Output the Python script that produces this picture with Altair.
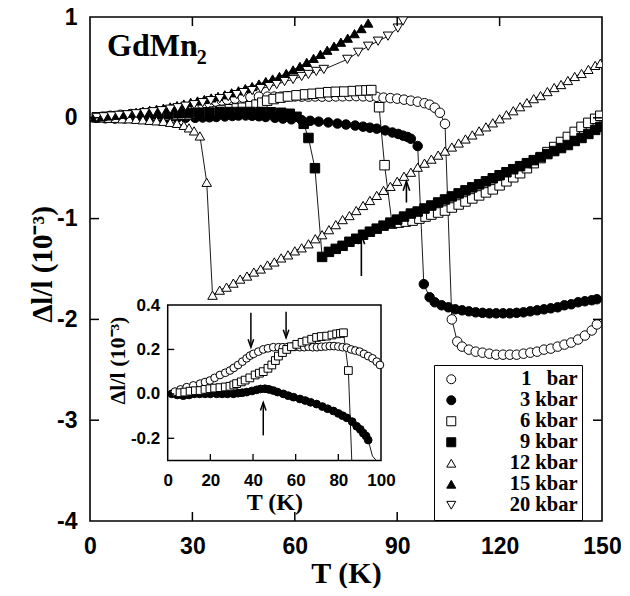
import altair as alt
import pandas as pd

# ---------------- data ----------------
T_1bar = [3.4, 6, 8.9, 12, 15.2, 17.5, 19.8, 22, 24.5, 27, 29.2, 31, 33, 35, 37, 38.6, 40.2, 42.5, 44.8, 47,
          49.5, 52, 54, 56, 58, 60, 62, 64, 66, 68, 70, 72, 74, 76, 78, 80, 82, 84, 86, 88,
          90, 92, 94, 96, 98, 99.5, 101, 102.5, 104, 106, 107.6, 109, 111, 113, 115, 117, 119, 121, 123, 125,
          127, 129, 131, 133, 135, 137, 139, 141, 143, 145, 147, 148.5]
V_1bar = [0.01, 0.02, 0.03, 0.038, 0.046, 0.053, 0.06, 0.072, 0.085, 0.095, 0.105, 0.117, 0.13, 0.145, 0.16, 0.172, 0.18, 0.19, 0.2, 0.205,
          0.21, 0.21, 0.21, 0.21, 0.212, 0.212, 0.21, 0.21, 0.212, 0.21, 0.21, 0.212, 0.213, 0.215, 0.215, 0.213, 0.21, 0.208, 0.2, 0.195,
          0.19, 0.18, 0.17, 0.16, 0.145, 0.13, 0.1, 0.05, -0.06, -2.0, -2.22, -2.27, -2.3, -2.32, -2.33, -2.34, -2.35, -2.35, -2.35, -2.35,
          -2.34, -2.33, -2.32, -2.3, -2.29, -2.27, -2.25, -2.23, -2.2, -2.16, -2.11, -2.05]

T_3k = [1.9, 4.5, 7.3, 10, 12.5, 15, 17.5, 20, 23, 25.5, 28, 30.8, 33, 35, 37, 39.5, 41.7, 43.5, 45.6, 47.5,
        49.5, 51.5, 54.2, 56.5, 59, 62, 64.5, 67, 69.8, 72.5, 75, 77.7, 80, 82, 84, 86.5, 88.6, 90.3, 91.7, 93,
        94, 96, 97.8, 99.5, 101, 103, 105, 107, 109, 111, 113, 115, 117, 119, 121, 123, 125, 127, 129, 131,
        133, 135, 137, 139, 141, 143, 145, 147, 148.5]
V_3k = [0, -0.005, -0.008, -0.005, 0, 0, 0, 0, 0, 0, 0, 0, 0.003, 0.005, 0.008, 0.013, 0.018, 0.022, 0.023, 0.02,
        0.015, 0.008, 0, -0.008, -0.015, -0.023, -0.03, -0.038, -0.046, -0.057, -0.067, -0.077, -0.088, -0.098, -0.108, -0.125, -0.146, -0.16, -0.177, -0.19,
        -0.208, -0.28, -1.65, -1.78, -1.83, -1.86, -1.88, -1.9, -1.91, -1.92, -1.93, -1.935, -1.94, -1.94, -1.94, -1.94, -1.935, -1.93, -1.92, -1.91,
        -1.9, -1.89, -1.88, -1.86, -1.85, -1.83, -1.82, -1.81, -1.8]

T_6k = [5.8, 8, 10.5, 13, 15.2, 17.5, 19.8, 22, 24.5, 27, 29.2, 31, 32.3, 34.5, 36.3, 38.5, 41, 43, 44.8, 47,
        48.8, 50.5, 51.9, 53.8, 55.8, 58, 60.5, 63, 65.2, 67.5, 69.8, 72, 74.5, 77, 79.2, 81, 82.4, 84.7, 86.3, 88.5,
        90.5, 92.5, 94.5, 96.5, 98.3, 100, 102, 104, 106, 108, 110, 112, 114, 116, 118, 120, 122, 124, 126, 128,
        130, 132, 134, 136, 138, 140, 142, 144, 146, 148, 149.5]
V_6k = [0.005, 0.008, 0.012, 0.014, 0.015, 0.02, 0.023, 0.026, 0.028, 0.031, 0.034, 0.04, 0.046, 0.054, 0.062, 0.072, 0.085, 0.093, 0.1, 0.115,
        0.13, 0.15, 0.17, 0.186, 0.2, 0.212, 0.223, 0.232, 0.238, 0.246, 0.254, 0.258, 0.26, 0.265, 0.27, 0.272, 0.275, 0.105, -0.47, -1.05,
        -1.04, -1.03, -1.02, -1.0, -0.98, -0.96, -0.94, -0.92, -0.89, -0.86, -0.83, -0.8, -0.77, -0.74, -0.71, -0.67, -0.63, -0.59, -0.55, -0.5,
        -0.45, -0.4, -0.34, -0.29, -0.24, -0.19, -0.14, -0.09, -0.05, -0.01, 0.02]

T_9k = [2, 5, 8, 11, 14, 17, 20, 23, 26, 29, 32, 35, 38, 41, 44, 47, 50, 53, 56, 58.5,
        60.5, 62.6, 64, 65.9, 68, 70, 72, 74, 76, 78,
        80, 82, 84, 86, 88, 90, 92, 94, 96, 98, 100, 102, 104, 106, 108, 110, 112, 114, 116, 118,
        120, 122, 124, 126, 128, 130, 132, 134, 136, 138, 140, 142, 144, 146, 148, 149.5]
V_9k = [0.005, 0.01, 0.015, 0.02, 0.025, 0.03, 0.035, 0.04, 0.045, 0.048, 0.05, 0.052, 0.055, 0.057, 0.058, 0.058, 0.057, 0.055, 0.05, 0.04,
        0.01, -0.06, -0.2, -0.5, -1.38, -1.33, -1.3, -1.27, -1.23, -1.2,
        -1.16, -1.13, -1.1, -1.07, -1.04, -1.01, -0.98, -0.95, -0.93, -0.9, -0.87, -0.84, -0.81, -0.78, -0.75, -0.72, -0.69, -0.66, -0.63, -0.6,
        -0.57, -0.54, -0.51, -0.48, -0.45, -0.42, -0.39, -0.36, -0.33, -0.3, -0.27, -0.23, -0.2, -0.16, -0.12, -0.09]

T_12k = [1.4, 3.5, 5.5, 7.5, 9.5, 11.5, 13.5, 15.5, 17.5, 19.5, 21.5, 23.5, 25.5, 27.5, 29, 30.5, 32.2, 34.2, 35.9,
         38, 40, 42, 44, 46, 48, 50, 52, 54, 56, 58, 60, 62, 64, 66, 68, 70, 72, 74, 76,
         78, 80, 82, 84, 86, 88, 90, 92, 94, 96, 98, 100, 102, 104, 106, 108, 110, 112, 114, 116,
         118, 120, 122, 124, 126, 128, 130, 132, 134, 136, 138, 140, 142, 144, 146, 148, 149.5]
V_12k = [0.0, 0.0, -0.005, -0.005, -0.01, -0.01, -0.015, -0.02, -0.025, -0.03, -0.035, -0.045, -0.055, -0.075, -0.1, -0.13, -0.18, -0.64, -1.76,
         -1.71, -1.68, -1.64, -1.6, -1.57, -1.53, -1.5, -1.46, -1.43, -1.39, -1.36, -1.32, -1.29, -1.25, -1.2, -1.16, -1.11, -1.06, -1.01, -0.97,
         -0.92, -0.87, -0.82, -0.77, -0.72, -0.68, -0.63, -0.58, -0.54, -0.49, -0.45, -0.41, -0.37, -0.33, -0.29, -0.25, -0.21, -0.17, -0.13, -0.09,
         -0.05, -0.01, 0.03, 0.07, 0.11, 0.15, 0.19, 0.22, 0.26, 0.3, 0.33, 0.37, 0.41, 0.44, 0.48, 0.52, 0.54]

T_15k = [1.5, 3.5, 5.5, 7.5, 9.5, 11.5, 13.5, 15.5, 17.5, 19.5, 21.5, 23.5, 25.5, 27.5, 29.5, 31.5, 33.5, 35.5, 37.5, 39.5,
         41.5, 43.5, 45.5, 47.5, 49.5, 51.5, 53.5, 55.5, 57.5, 59.5, 61.5, 63.5, 65.5, 67.5, 69.5, 71.5, 73.5, 75.5, 77.5, 79.5, 81.5]
V_15k = [0.005, 0.012, 0.018, 0.025, 0.035, 0.045, 0.055, 0.065, 0.075, 0.085, 0.095, 0.108, 0.122, 0.137, 0.152, 0.167, 0.182, 0.197, 0.212, 0.228,
         0.248, 0.268, 0.29, 0.31, 0.335, 0.36, 0.385, 0.41, 0.44, 0.475, 0.51, 0.55, 0.59, 0.63, 0.67, 0.71, 0.75, 0.79, 0.835, 0.885, 0.94]

T_20k = [2, 4, 6.3, 8.5, 11, 13.5, 16, 18.5, 21, 23.5, 25.7, 28, 30.5, 33, 35.4, 38, 40.5, 43, 45, 47.5,
         50, 52.5, 54.7, 57, 59.5, 62, 64, 66.3, 68.5, 75.4, 78.6, 81.5, 84.4, 87.3, 90.2, 91.7]
V_20k = [0.005, 0.01, 0.018, 0.025, 0.03, 0.04, 0.05, 0.06, 0.07, 0.085, 0.1, 0.115, 0.13, 0.15, 0.17, 0.19, 0.21, 0.23, 0.25, 0.27,
         0.29, 0.31, 0.33, 0.36, 0.38, 0.41, 0.43, 0.46, 0.48, 0.58, 0.65, 0.71, 0.76, 0.81, 0.89, 0.96]

series_names = ["1\u00a0\u00a0\u00a0bar", "3 kbar", "6 kbar", "9 kbar", "12 kbar", "15 kbar", "20 kbar"]
series_fill = ["white", "black", "white", "black", "white", "black", "white"]
series_stroke = ["black", "black", "black", "black", "black", "black", "black"]
series_shape = ["circle", "circle", "square", "square", "triangle-up", "triangle-up", "triangle-down"]
series_T = [T_1bar, T_3k, T_6k, T_9k, T_12k, T_15k, T_20k]
series_V = [V_1bar, V_3k, V_6k, V_9k, V_12k, V_15k, V_20k]
draw_order = [1, 0, 2, 3, 4, 5, 6]
inset_series = [0, 1, 2]

# arrows (main panel, pointing up)
arrow_T = [79.5, 92.7]
arrow_base = [-1.57, -0.84]
arrow_tip = [-1.16, -0.63]
# arrows (inset)
inset_arrow_T = [39.0, 55.5, 44.8]
inset_arrow_base = [0.365, 0.37, -0.187]
inset_arrow_tip = [0.21, 0.253, -0.039]
inset_arrow_dir = ["down", "down", "up"]

main_xticks = [0, 30, 60, 90, 120, 150]
main_yticks = [-4, -3, -2, -1, 0, 1]
inset_xticks = [0, 20, 40, 60, 80, 100]
inset_yticks = [-0.2, 0.0, 0.2, 0.4]

# ---------------- build tables ----------------
rows = []
for i in draw_order:
    for t, v in zip(series_T[i], series_V[i]):
        rows.append({"p": series_names[i], "T": t, "v": v})
df = pd.DataFrame(rows)
inset_names = [series_names[i] for i in inset_series]
df_in = df[df["p"].isin(inset_names) & (df["T"] <= 100)]
df_in_pts = df_in[(df_in["v"] > -0.25) & (df_in["v"] <= 0.4)]

W, H = 512, 504
XD, YD = [0, 150], [-4, 1]
# inset placement inside the plot area (pixels)
IX0, IX1 = 77.7, 291.0
IY0, IY1 = 443.5, 288.0
IXD, IYD = [0, 100], [-0.3, 0.4]

TICK = 9.0
tx = TICK / W * (XD[1] - XD[0])
ty = TICK / H * (YD[1] - YD[0])
ITICK = 6.5
itx = ITICK / (IX1 - IX0) * (IXD[1] - IXD[0])
ity = ITICK / (IY0 - IY1) * (IYD[1] - IYD[0])

tick_rows = []
for t in main_xticks[1:-1]:
    tick_rows.append({"x": t, "x2": t, "y": YD[0], "y2": YD[0] + ty})
    tick_rows.append({"x": t, "x2": t, "y": YD[1], "y2": YD[1] - ty})
for v in main_yticks[1:-1]:
    tick_rows.append({"x": XD[0], "x2": XD[0] + tx, "y": v, "y2": v})
    tick_rows.append({"x": XD[1], "x2": XD[1] - tx, "y": v, "y2": v})
df_ticks = pd.DataFrame(tick_rows)

itick_rows = []
for t in inset_xticks[1:-1]:
    itick_rows.append({"x": t, "x2": t, "y": IYD[0], "y2": IYD[0] + ity})
for v in inset_yticks[:-1]:
    itick_rows.append({"x": IXD[0], "x2": IXD[0] + itx, "y": v, "y2": v})
df_iticks = pd.DataFrame(itick_rows)

df_arrows = pd.DataFrame({"T": arrow_T, "base": arrow_base, "tip": arrow_tip})
df_iarrows = pd.DataFrame({"T": inset_arrow_T, "base": inset_arrow_base,
                           "tip": inset_arrow_tip, "dir": inset_arrow_dir})
df_frame = pd.DataFrame({"x": [IXD[0]], "x2": [IXD[1]], "y": [IYD[0]], "y2": [IYD[1]]})
df_label = pd.DataFrame({"T": [5.0, 31.3], "v": [0.61, 0.53], "txt": ["GdMn", "2"]})

SANS = "Liberation Sans"
SERIF = "Liberation Serif"
UP = "M-0.7,2L0,0L0.7,2"
DOWN = "M-0.7,-2L0,0L0.7,-2"

int_expr = "datum.value < 0 ? '-' + format(-datum.value, 'd') : format(datum.value, 'd')"
dec_expr = "datum.value < 0 ? '-' + format(-datum.value, '.1f') : format(datum.value, '.1f')"

# ---------------- main panel ----------------
main_xs = alt.Scale(domain=XD, nice=False, zero=False)
main_ys = alt.Scale(domain=YD, nice=False, zero=False)
main_xaxis = alt.Axis(values=main_xticks, ticks=False, domain=False, grid=False, labelFlush=False,
                      labelFont=SANS, labelFontSize=23, labelFontWeight="bold", labelColor="black",
                      labelPadding=14, labelExpr=int_expr,
                      title="T (K)", titleFont=SERIF, titleFontSize=30, titleFontWeight="bold",
                      titleColor="black", titlePadding=0)
main_yaxis = alt.Axis(values=main_yticks, ticks=False, domain=False, grid=False,
                      labelFont=SANS, labelFontSize=23, labelFontWeight="bold", labelColor="black",
                      labelPadding=13, labelExpr=int_expr,
                      title="\u0394l/l (10\u207b\u00b3)", titleFont=SERIF, titleFontSize=29,
                      titleFontWeight="bold", titleColor="black", titleBaseline="alphabetic",
                      titleX=-38.5, titleY=247)


def mx(f):
    return alt.X(f, type="quantitative", scale=main_xs, axis=main_xaxis)


def my(f):
    return alt.Y(f, type="quantitative", scale=main_ys, axis=main_yaxis)


legend = alt.Legend(orient="none", legendX=344, legendY=348, strokeColor="black", fillColor="white",
                    padding=4, symbolSize=81, symbolStrokeColor="black", symbolStrokeWidth=1,
                    symbolOffset=3, labelFont=SERIF, labelFontSize=20.5, labelFontWeight="bold",
                    labelColor="black", labelAlign="right", labelOffset=116, rowPadding=0,
                    labelLimit=400)
fill_enc = alt.Fill("p:N", scale=alt.Scale(domain=series_names, range=series_fill), legend=legend, title=None)
stroke_enc = alt.Stroke("p:N", scale=alt.Scale(domain=series_names, range=series_stroke), legend=legend, title=None)
shape_enc = alt.Shape("p:N", scale=alt.Scale(domain=series_names, range=series_shape), legend=legend, title=None)

m_lines = alt.Chart(df).mark_line(color="black", strokeWidth=0.9, clip=True).encode(
    x=mx("T"), y=my("v"), detail="p:N")
m_points = alt.Chart(df).mark_point(filled=True, strokeWidth=1, size=90, opacity=1, clip=True).encode(
    x=mx("T"), y=my("v"), fill=fill_enc, stroke=stroke_enc, shape=shape_enc)
m_ticks = alt.Chart(df_ticks).mark_rule(color="black", strokeWidth=1.5).encode(
    x=mx("x"), x2="x2", y=my("y"), y2="y2")
m_shafts = alt.Chart(df_arrows).mark_rule(color="black", strokeWidth=1.6).encode(
    x=mx("T"), y=my("base"), y2="tip")
m_heads = alt.Chart(df_arrows).mark_point(shape=UP, filled=False, stroke="black", strokeWidth=1.6,
                                           size=90, opacity=1).encode(x=mx("T"), y=my("tip"))
m_name = alt.Chart(df_label.iloc[[0]]).mark_text(align="left", baseline="alphabetic", font=SERIF,
                                                   fontSize=32, fontWeight="bold", color="black").encode(
    x=mx("T"), y=my("v"), text="txt:N")
m_sub = alt.Chart(df_label.iloc[[1]]).mark_text(align="left", baseline="alphabetic", font=SERIF,
                                                  fontSize=20, fontWeight="bold", color="black").encode(
    x=mx("T"), y=my("v"), text="txt:N")

main = alt.layer(m_lines, m_points, m_ticks, m_shafts, m_heads, m_name, m_sub)

# ---------------- inset panel ----------------
in_xs = alt.Scale(domain=IXD, range=[IX0, IX1], nice=False, zero=False)
in_ys = alt.Scale(domain=IYD, range=[IY0, IY1], nice=False, zero=False, clamp=True)
in_xaxis = alt.Axis(orient="bottom", offset=IY0 - H, values=inset_xticks, ticks=False, domain=False,
                    grid=False, labelFlush=False, labelFont=SANS, labelFontSize=17, labelFontWeight="bold",
                    labelColor="black", labelPadding=12, labelExpr=int_expr,
                    title="T (K)", titleFont=SERIF, titleFontSize=24, titleFontWeight="bold",
                    titleColor="black", titlePadding=2)
in_yaxis = alt.Axis(orient="left", offset=-IX0, values=inset_yticks, ticks=False, domain=False, grid=False,
                    labelFont=SANS, labelFontSize=17, labelFontWeight="bold", labelColor="black",
                    labelPadding=8, labelExpr=dec_expr,
                    title="\u0394l/l (10\u207b\u00b3)", titleFont=SERIF, titleFontSize=22,
                    titleFontWeight="bold", titleColor="black", titlePadding=1, titleY=343)


def ix(f):
    return alt.X(f, type="quantitative", scale=in_xs, axis=in_xaxis)


def iy(f):
    return alt.Y(f, type="quantitative", scale=in_ys, axis=in_yaxis)


i_frame = alt.Chart(df_frame).mark_rect(fillOpacity=0, stroke="black", strokeWidth=1.5).encode(
    x=ix("x"), x2="x2", y=iy("y"), y2="y2")
i_lines = alt.Chart(df_in).mark_line(color="black", strokeWidth=0.9).encode(
    x=ix("T"), y=iy("v"), detail="p:N")
i_points = alt.Chart(df_in_pts).mark_point(filled=True, strokeWidth=1, size=60, opacity=1).encode(
    x=ix("T"), y=iy("v"), fill=fill_enc, stroke=stroke_enc, shape=shape_enc)
i_ticks = alt.Chart(df_iticks).mark_rule(color="black", strokeWidth=1.3).encode(
    x=ix("x"), x2="x2", y=iy("y"), y2="y2")
i_shafts = alt.Chart(df_iarrows).mark_rule(color="black", strokeWidth=1.5).encode(
    x=ix("T"), y=iy("base"), y2="tip")
i_heads_up = alt.Chart(df_iarrows[df_iarrows["dir"] == "up"]).mark_point(
    shape=UP, filled=False, stroke="black", strokeWidth=1.5, size=64, opacity=1).encode(x=ix("T"), y=iy("tip"))
i_heads_dn = alt.Chart(df_iarrows[df_iarrows["dir"] == "down"]).mark_point(
    shape=DOWN, filled=False, stroke="black", strokeWidth=1.5, size=64, opacity=1).encode(x=ix("T"), y=iy("tip"))

inset = alt.layer(i_frame, i_lines, i_points, i_ticks, i_shafts, i_heads_up, i_heads_dn)

chart = alt.layer(main, inset).resolve_scale(x="independent", y="independent").properties(
    width=W, height=H,
    autosize=alt.AutoSizeParams(type="none"),
    padding={"left": 82, "top": 9, "right": 19, "bottom": 67},
).configure(background="white").configure_view(stroke="black", strokeWidth=1.6)

chart.save("out.html", embed_options={"renderer": "svg", "actions": False})
